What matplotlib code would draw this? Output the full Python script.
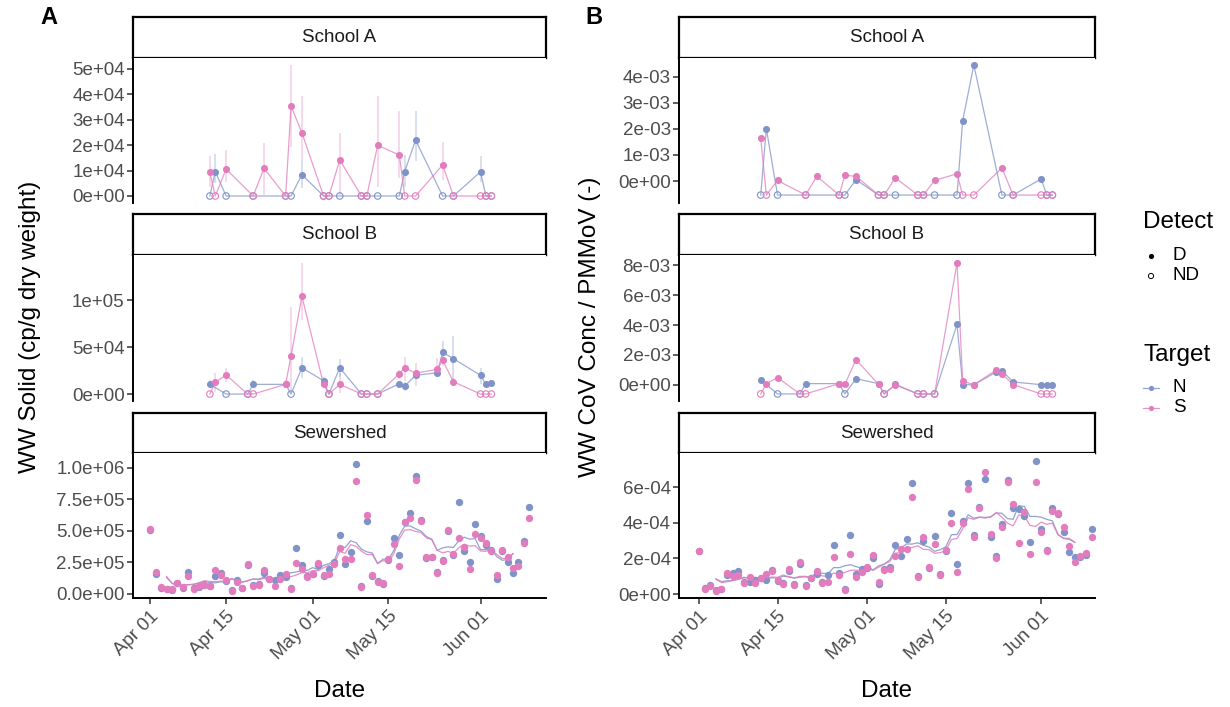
import numpy as np
import pandas as pd
import matplotlib
matplotlib.use("Agg")
import matplotlib.pyplot as plt
import matplotlib.dates as mdates

plt.rcParams['font.family'] = ['Liberation Sans', 'DejaVu Sans']

# ---------------- data ----------------
start = np.datetime64('2021-04-01')

# school sampling days (days after Apr 01); 0 = not detected
schA_days = [11, 12, 14, 19, 21, 25, 26, 28, 32, 33, 35, 39, 40, 42, 46, 47, 49, 54, 56, 61, 62, 63]
schB_days = [11, 12, 14, 18, 19, 25, 26, 28, 32, 33, 35, 39, 40, 42, 46, 47, 49, 53, 54, 56, 61, 62, 63]
nan = np.nan

# panel A, School A (x1e4 cp/g)
schA_N_solid = [0, 0.96, 0, 0, nan, 0, 0, 0.84, 0, 0, 0, 0, 0, 0, 0, 0.96, 2.2, 0, 0, 0.95, 0, 0]
schA_N_lo = [nan, 0.5, nan, nan, nan, nan, nan, 0.31, nan, nan, nan, nan, nan, nan, nan, 0.37, 1.38, nan, nan, 0.55, nan, nan]
schA_N_hi = [nan, 1.65, nan, nan, nan, nan, nan, 1.42, nan, nan, nan, nan, nan, nan, nan, 1.61, 3.35, nan, nan, 1.57, nan, nan]
schA_S_solid = [0.93, 0, 1.06, 0, 1.09, 0, 3.54, 2.49, 0, 0, 1.42, 0, 0, 2.0, 1.61, 0, 0, 1.22, 0, 0, 0, 0]
schA_S_lo = [0.37, nan, 0.56, nan, 0.04, nan, 1.93, 1.42, nan, nan, 0.04, nan, nan, 0.37, 0.72, nan, nan, 0.63, nan, nan, nan, nan]
schA_S_hi = [1.57, nan, 1.81, nan, 2.09, nan, 5.16, 3.95, nan, nan, 2.49, nan, nan, 3.95, 3.35, nan, nan, 2.14, nan, nan, nan, nan]

# panel A, School B (x1e4 cp/g)
schB_N_solid = [1.03, nan, 0, 0, 1.03, 1.03, 0, 2.8, 1.42, 0, 2.8, 0, 0, 0, 1.1, 0.85, 1.99, 2.27, 4.43, 3.76, 1.99, 1.03, 1.2]
schB_N_lo = [0.78, nan, nan, nan, 0.78, 0.7, nan, 1.7, 1.1, nan, 1.84, nan, nan, nan, 0.8, 0.3, 1.7, 1.9, 3.27, 1.31, 1.03, 0.8, 0.9]
schB_N_hi = [1.45, nan, nan, nan, 1.45, 1.3, nan, 3.97, 1.8, nan, 3.69, nan, nan, nan, 1.4, 1.3, 2.3, 2.6, 5.67, 6.17, 2.8, 1.3, 1.5]
schB_S_solid = [0, 1.24, 2.02, 0, 0, 1.03, 4.08, 10.4, 1.03, 0, 1.03, 0, 0, 0, 2.16, 2.8, 2.23, 2.62, 3.58, 1.31, 0, 0, 0]
schB_S_lo = [nan, 0.25, 1.24, nan, nan, 0.6, 0.07, 7.9, 0.7, nan, 0.07, nan, nan, nan, 1.6, 1.35, 0.85, 1.77, 3.0, 0.9, nan, nan, nan]
schB_S_hi = [nan, 2.19, 2.8, nan, nan, 1.5, 9.3, 13.9, 1.4, nan, 2.19, nan, nan, nan, 2.6, 3.9, 3.3, 3.8, 4.1, 1.7, nan, nan, nan]

# panel B, School A / B (x1e-3, CoV / PMMoV)
schA_N_pmmov = [0, 2.01, 0, 0, nan, 0, 0, 0.05, 0, 0, 0, 0, 0, 0, 0, 2.31, 4.46, 0, 0, 0.08, 0, 0]
schA_S_pmmov = [1.64, 0, 0.02, 0, 0.18, 0, 0.22, 0.18, 0, 0, 0.12, 0, 0, 0.02, 0.28, 0, 0, 0.5, 0, 0, 0, 0]
schB_N_pmmov = [0.33, nan, 0, 0, 0.09, 0.09, 0, 0.42, 0.09, 0, 0.04, 0, 0, 0, 4.04, 0.02, 0.01, 0.87, 0.96, 0.2, 0.02, 0.02, 0.02]
schB_S_pmmov = [0, 0.09, 0.49, 0, 0, 0.09, 0.04, 1.69, 0.04, 0, 0.01, 0, 0, 0, 8.16, 0.27, 0.01, 1.0, 0.75, 0.02, 0, 0, 0]

# sewershed, daily Apr 01 - Jun 10
sew_days = list(range(71))
# panel A (x1e5 cp/g)
sew_N_solid = [5.1, 1.56, 0.5, 0.38, 0.32, 0.85, 0.5, 1.77, 0.45, 0.53, 0.7, 0.6, 1.40, 1.67, 1.0, 0.3,
               1.11, 0.5, 2.3, 0.7, 0.8, 1.67, 1.2, 1.11, 1.51, 1.32, 0.45, 3.65, 2.3, 1.4, 1.6, 2.3,
               1.4, 2.0, 2.5, 4.66, 2.35, 3.36, 10.29, 0.6, 5.82, 1.45, 1.06, 0.82, 2.7, 4.47, 3.07,
               5.7, 6.46, 9.39, 5.9, 2.83, 2.9, 1.75, 2.7, 5.0, 3.1, 7.33, 3.41, 2.54, 5.56, 4.6,
               3.89, 3.49, 1.16, 3.4, 2.57, 1.67, 2.57, 4.2, 6.9]
sew_S_solid = [5.13, 1.77, 0.56, 0.40, 0.43, 0.90, 0.56, 1.46, 0.40, 0.66, 0.74, 0.61, 1.90, 1.53, 1.11,
               0.26, 0.98, 0.45, 2.38, 0.63, 0.74, 1.90, 1.16, 0.66, 1.19, 1.59, 0.40, 2.49, 2.00, 1.32,
               1.59, 2.49, 1.51, 1.59, 2.41, 3.62, 2.75, 2.75, 8.97, 0.56, 6.30, 1.53, 0.93, 0.85, 2.77,
               3.94, 2.22, 5.69, 6.03, 9.07, 5.82, 2.96, 2.96, 1.67, 2.59, 5.08, 3.15, 4.47, 3.70, 2.00,
               4.74, 4.47, 4.07, 3.44, 1.48, 3.49, 2.91, 2.09, 2.25, 4.07, 6.01]
# panel B (x1e-4)
sew_N_pmmov = [2.40, 0.35, 0.52, 0.2, 0.26, 1.05, 1.20, 1.31, 0.65, 0.7, 0.79, 0.88, 0.79, 1.35, 0.73,
               0.6, 1.3, 0.55, 1.7, 0.5, 0.88, 1.13, 0.65, 1.07, 2.74, 1.2, 0.3, 3.31, 1.11, 1.41, 1.48,
               2.0, 0.54, 1.4, 1.5, 2.74, 2.14, 3.08, 6.24, 1.03, 3.0, 1.45, 3.24, 1.13, 2.44, 4.55, 1.67,
               4.1, 6.24, 3.31, 4.9, 6.47, 3.19, 2.14, 3.94, 6.43, 4.86, 4.8, 4.37, 2.92, 7.49, 3.64, 2.5,
               4.86, 4.5, 3.51, 2.34, 2.08, 2.08, 2.2, 3.64]
sew_S_pmmov = [2.40, 0.30, 0.47, 0.15, 0.30, 1.20, 1.01, 1.09, 0.6, 0.94, 0.6, 0.92, 1.13, 1.30, 0.79,
               0.54, 1.41, 0.5, 1.82, 0.47, 0.88, 1.31, 0.6, 0.7, 2.10, 1.07, 0.22, 2.23, 0.94, 1.26, 1.52,
               2.18, 0.66, 1.35, 1.41, 2.14, 2.51, 2.55, 5.45, 0.96, 3.19, 1.54, 2.83, 1.07, 2.47, 3.98,
               1.22, 4.02, 5.9, 3.22, 4.84, 6.87, 3.36, 2.01, 3.75, 6.28, 5.08, 2.87, 4.63, 2.23, 6.31,
               3.51, 2.40, 4.69, 4.56, 3.77, 2.68, 1.78, 2.14, 2.29, 3.19]

strip_labels = ['School A', 'School B', 'Sewershed']
yticks_A = [[0, 1e4, 2e4, 3e4, 4e4, 5e4], [0, 5e4, 1e5], [0, 2.5e5, 5e5, 7.5e5, 1e6]]
ylabels_A = [['0e+00', '1e+04', '2e+04', '3e+04', '4e+04', '5e+04'],
             ['0e+00', '5e+04', '1e+05'],
             ['0.0e+00', '2.5e+05', '5.0e+05', '7.5e+05', '1.0e+06']]
yticks_B = [[0, 1e-3, 2e-3, 3e-3, 4e-3], [0, 2e-3, 4e-3, 6e-3, 8e-3], [0, 2e-4, 4e-4, 6e-4]]
ylabels_B = [['0e+00', '1e-03', '2e-03', '3e-03', '4e-03'],
             ['0e+00', '2e-03', '4e-03', '6e-03', '8e-03'],
             ['0e+00', '2e-04', '4e-04', '6e-04']]
date_ticks = ['2021-04-01', '2021-04-15', '2021-05-01', '2021-05-15', '2021-06-01']

col_N = '#7F93C8'
col_S = '#E37CBD'

# ---------------- layout ----------------
W, H = 1230, 707
fig = plt.figure(figsize=(W / 100, H / 100), dpi=100)


def px_rect(l, t, r, b):
    return [l / W, 1 - b / H, (r - l) / W, (b - t) / H]


def to_dates(days):
    return start + np.array(days).astype('timedelta64[D]')


base = mdates.date2num(start)
cols = {'A': (133, 546, (-3.2, 73.1)), 'B': (679, 1095, (-3.57, 70.6))}
rows = [((17, 58), (58, 203)), ((214, 255), (255, 401)), ((413, 453), (453, 598))]
ylims = {'A': [(-0.276e4, 5.43e4), (-0.74e4, 14.8e4), (-0.32e5, 11.19e5)],
         'B': [(-0.846e-3, 4.73e-3), (-1.07e-3, 8.67e-3), (-0.225e-4, 7.94e-4)]}
nd_level = {'A': [0, 0], 'B': [-0.54e-3, -0.6e-3]}
tick_col = '#4D4D4D'


def draw_school(ax, days, series, nd):
    d = to_dates(days)
    for vals, lo, hi, color in series:
        v = np.array(vals, float)
        ok = ~np.isnan(v)
        det = ok & (v > 0)
        y = np.where(det, v, nd)
        ax.plot(d[ok], y[ok], color=color, lw=0.9, alpha=0.75, zorder=2)
        if lo is not None:
            lo = np.array(lo, float)
            hi = np.array(hi, float)
            m = det & ~np.isnan(lo)
            ax.vlines(d[m], lo[m], hi[m], color=color, lw=1.2, alpha=0.35, zorder=1)
        ax.scatter(d[det], y[det], s=26, color=color, lw=0, zorder=3)
        ax.scatter(d[ok & ~det], y[ok & ~det], s=22, facecolors='none',
                   edgecolors=color, lw=0.8, zorder=3)


def draw_sewer(ax, series):
    d = to_dates(sew_days)
    for vals, color in series:
        v = pd.Series(np.array(vals, float))
        ax.scatter(d, v, s=28, color=color, lw=0, zorder=3)
        ma = v.rolling(7, center=True).mean()
        ax.plot(d, ma, color=color, lw=0.9, alpha=0.85, zorder=2)


panel_data = {
    'A': [
        lambda ax: draw_school(ax, schA_days, [
            (np.array(schA_N_solid) * 1e4, np.array(schA_N_lo) * 1e4, np.array(schA_N_hi) * 1e4, col_N),
            (np.array(schA_S_solid) * 1e4, np.array(schA_S_lo) * 1e4, np.array(schA_S_hi) * 1e4, col_S)],
            nd_level['A'][0]),
        lambda ax: draw_school(ax, schB_days, [
            (np.array(schB_N_solid) * 1e4, np.array(schB_N_lo) * 1e4, np.array(schB_N_hi) * 1e4, col_N),
            (np.array(schB_S_solid) * 1e4, np.array(schB_S_lo) * 1e4, np.array(schB_S_hi) * 1e4, col_S)],
            nd_level['A'][1]),
        lambda ax: draw_sewer(ax, [(np.array(sew_N_solid) * 1e5, col_N),
                                   (np.array(sew_S_solid) * 1e5, col_S)]),
    ],
    'B': [
        lambda ax: draw_school(ax, schA_days, [
            (np.array(schA_N_pmmov) * 1e-3, None, None, col_N),
            (np.array(schA_S_pmmov) * 1e-3, None, None, col_S)], nd_level['B'][0]),
        lambda ax: draw_school(ax, schB_days, [
            (np.array(schB_N_pmmov) * 1e-3, None, None, col_N),
            (np.array(schB_S_pmmov) * 1e-3, None, None, col_S)], nd_level['B'][1]),
        lambda ax: draw_sewer(ax, [(np.array(sew_N_pmmov) * 1e-4, col_N),
                                   (np.array(sew_S_pmmov) * 1e-4, col_S)]),
    ],
}
yt = {'A': (yticks_A, ylabels_A), 'B': (yticks_B, ylabels_B)}

for key, (l, r, xl) in cols.items():
    for i, ((st, sb), (at, ab)) in enumerate(rows):
        # strip
        sax = fig.add_axes(px_rect(l, st, r, sb))
        sax.set_xticks([])
        sax.set_yticks([])
        for sp in sax.spines.values():
            sp.set_linewidth(1.6)
            sp.set_color('black')
        sax.text(0.5, 0.5, strip_labels[i], ha='center', va='center',
                 fontsize=13.5, color='#1A1A1A', transform=sax.transAxes)
        # panel
        ax = fig.add_axes(px_rect(l, at, r, ab))
        panel_data[key][i](ax)
        ax.set_xlim(base + xl[0], base + xl[1])
        ax.set_ylim(*ylims[key][i])
        ax.set_yticks(yt[key][0][i], yt[key][1][i])
        for s in ['top', 'right']:
            ax.spines[s].set_visible(False)
        ax.spines['left'].set_linewidth(1.4)
        ax.tick_params(axis='y', length=4, width=1.1, color='#333333',
                       labelsize=13.5, labelcolor=tick_col, pad=2)
        ax.set_xticks([np.datetime64(t) for t in date_ticks])
        ax.xaxis.set_major_formatter(mdates.DateFormatter('%b %d'))
        if i < 2:
            ax.spines['bottom'].set_visible(False)
            ax.tick_params(axis='x', bottom=False, labelbottom=False)
        else:
            ax.spines['bottom'].set_linewidth(1.4)
            ax.tick_params(axis='x', length=4, width=1.1, color='#333333',
                           labelsize=13.5, labelcolor=tick_col, pad=3)
            for lab in ax.get_xticklabels():
                lab.set_rotation(45)
                lab.set_ha('right')
                lab.set_rotation_mode('anchor')
            ax.set_xlabel('Date', fontsize=17.5, labelpad=12)

fig.text(30 / W, 1 - 327 / H, 'WW Solid (cp/g dry weight)', rotation=90,
         ha='center', va='center', fontsize=17.5)
fig.text(590 / W, 1 - 327 / H, 'WW CoV Conc / PMMoV (-)', rotation=90,
         ha='center', va='center', fontsize=17.5)
fig.text(40 / W, 1 - 18 / H, 'A', fontsize=17, fontweight='bold', va='center', ha='left')
fig.text(585 / W, 1 - 18 / H, 'B', fontsize=17, fontweight='bold', va='center', ha='left')

# ---------------- legends ----------------
leg = fig.add_axes([0, 0, 1, 1], facecolor='none')
leg.set_xlim(0, W)
leg.set_ylim(H, 0)
leg.axis('off')
leg.text(1143, 222, 'Detect', fontsize=17.5, va='center', ha='left')
leg.scatter([1151], [256], s=14, color='black', lw=0)
leg.scatter([1151], [276], s=14, facecolors='none', edgecolors='black', lw=0.7)
leg.text(1173, 256, 'D', fontsize=13.5, va='center', ha='left')
leg.text(1173, 276, 'ND', fontsize=13.5, va='center', ha='left')
leg.text(1143, 355, 'Target', fontsize=17.5, va='center', ha='left')
for yy, c, lab in [(388, col_N, 'N'), (408, col_S, 'S')]:
    leg.plot([1143, 1159], [yy, yy], color=c, lw=0.9, alpha=0.8)
    leg.scatter([1151], [yy], s=14, color=c, lw=0)
    leg.text(1173, yy, lab, fontsize=13.5, va='center', ha='left')

fig.savefig('out.png', dpi=100)
